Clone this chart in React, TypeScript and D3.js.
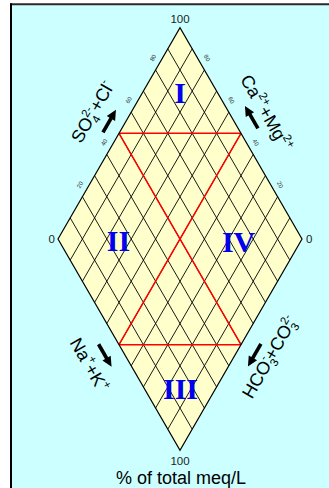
import React from "react";
import * as d3 from "d3";

// ---- data ----
const gridLevels = [0, 10, 20, 30, 40, 50, 60, 70, 80, 90, 100];
const edgeTicks = [20, 40, 60, 80];
const boundaryLevel = 50;
const regionNames = ["I", "II", "III", "IV"];
const regionA = [84.5, 24.3, 14.7, 73.3];
const regionB = [15.5, 25.3, 85.7, 74.7];

const W = 329;
const H = 488;
const cx = 180;
const cy = 239;
const halfW = 122;
const halfH = halfW * Math.sqrt(3);

// diamond coordinates: a = towards top, b = towards bottom (both 0..100)
const ax = d3.scaleLinear().domain([0, 100]).range([0, halfW]);
const ay = d3.scaleLinear().domain([0, 100]).range([0, -halfH]);
const bx = d3.scaleLinear().domain([0, 100]).range([0, halfW]);
const by = d3.scaleLinear().domain([0, 100]).range([0, halfH]);
const P = (a: number, b: number): [number, number] => [
  cx - halfW + ax(a) + bx(b),
  cy + ay(a) + by(b),
];
const line = d3.line<[number, number]>();

const FONT = "'Liberation Sans', Arial, sans-serif";

function Arrow({ x, y, angle }: { x: number; y: number; angle: number }) {
  const L = 26;
  const head = 10;
  const hw = 4.8;
  return (
    <g transform={`translate(${x},${y}) rotate(${angle})`}>
      <line x1={-L / 2} y1={0} x2={L / 2 - head + 1} y2={0} stroke="#000" strokeWidth={3.6} />
      <path d={`M${L / 2},0 L${L / 2 - head},${-hw} L${L / 2 - head},${hw} Z`} fill="#000" />
    </g>
  );
}

function edgePoint(t: number, from: [number, number], to: [number, number], off: number, nrm: [number, number]) {
  return [from[0] + (to[0] - from[0]) * t + nrm[0] * off, from[1] + (to[1] - from[1]) * t + nrm[1] * off];
}

export default function App() {
  const top = P(100, 0);
  const left = P(0, 0);
  const right = P(100, 100);
  const bottom = P(0, 100);
  const outline = line([left, top, right, bottom, left]) + "Z";

  const s3 = Math.sqrt(3) / 2;
  const aL = edgePoint(0.524, left, top, 14.4, [-s3, -0.5]);
  const aR = edgePoint(0.464, top, right, 17.1, [s3, -0.5]);
  const aBL = edgePoint(0.51, left, bottom, 17.5, [-s3, 0.5]);
  const aBR = edgePoint(0.51, right, bottom, 16.9, [s3, 0.5]);

  const sub = 11.5;
  const sw = 6.4;
  return (
    <svg width={W} height={H} style={{ position: "absolute", left: 0, top: 0 }}>
      <rect x={0} y={0} width={W} height={H} fill="#fff" />
      <rect x={11} y={4} width={W - 11} height={H - 4} fill="#CCFFFF" />
      <line x1={10} y1={4.3} x2={W} y2={4.3} stroke="#2a2a2a" strokeWidth={2} />
      <line x1={11} y1={3.3} x2={11} y2={H} stroke="#000" strokeWidth={2} />

      <path d={outline} fill="#FFFFCC" stroke="none" />
      <g stroke="#000" strokeWidth={0.9} fill="none">
        {gridLevels.slice(1, -1).map((v) => (
          <path key={"a" + v} d={line([P(v, 0), P(v, 100)]) as string} />
        ))}
        {gridLevels.slice(1, -1).map((v) => (
          <path key={"b" + v} d={line([P(0, v), P(100, v)]) as string} />
        ))}
      </g>
      <g stroke="#FF0000" strokeWidth={1.5} fill="none">
        <path d={line([P(boundaryLevel, 0), P(boundaryLevel, 100)]) as string} />
        <path d={line([P(0, boundaryLevel), P(100, boundaryLevel)]) as string} />
        <path d={line([P(boundaryLevel, 0), P(100, boundaryLevel)]) as string} />
        <path d={line([P(0, boundaryLevel), P(boundaryLevel, 100)]) as string} />
      </g>
      <path d={outline} fill="none" stroke="#000" strokeWidth={1.2} />

      {/* edge tick labels */}
      <g fontFamily={FONT} fontSize={6} fill="#333" textAnchor="middle" dominantBaseline="central">
        {edgeTicks.map((v) => {
          const [x, y] = P(v, 0);
          return (
            <text key={"l" + v} transform={`translate(${x - 2.5},${y - 12}) rotate(-60)`}>
              {v}
            </text>
          );
        })}
        {edgeTicks.map((v) => {
          const [x, y] = P(100, 100 - v);
          return (
            <text key={"r" + v} transform={`translate(${x + 2.5},${y - 12}) rotate(60)`}>
              {v}
            </text>
          );
        })}
      </g>
      <g fontFamily={FONT} fontSize={11.5} fill="#222">
        <text x={top[0]} y={top[1] - 5} textAnchor="middle">100</text>
        <text x={bottom[0]} y={bottom[1] + 15} textAnchor="middle">100</text>
        <text x={left[0] - 3} y={left[1] + 4} textAnchor="end">0</text>
        <text x={right[0] + 4} y={right[1] + 4} textAnchor="start">0</text>
      </g>

      {/* region labels */}
      <g fontFamily="'Liberation Serif', 'Times New Roman', serif" fontWeight="bold" fontSize={30} fill="#0000EE" textAnchor="middle">
        {regionNames.map((n, i) => {
          const [x, y] = P(regionA[i], regionB[i]);
          return (
            <text key={n} x={x} y={y + 10}>
              {n}
            </text>
          );
        })}
      </g>

      {/* axis titles */}
      <g fontFamily={FONT} fontSize={18} fill="#000">
        <text transform="translate(98,115) rotate(-60)" textAnchor="middle">
          <tspan>SO</tspan>
          <tspan fontSize={sub} dy={4.5}>4</tspan>
          <tspan fontSize={sub} dx={-sw} dy={-12}>2-</tspan>
          <tspan dy={7.5}>+Cl</tspan>
          <tspan fontSize={sub} dy={-8}>-</tspan>
        </text>
        <text transform="translate(261,116) rotate(60)" textAnchor="middle">
          <tspan>Ca</tspan>
          <tspan fontSize={sub} dy={-8}>2+</tspan>
          <tspan dy={8}>+Mg</tspan>
          <tspan fontSize={sub} dy={-8}>2+</tspan>
        </text>
        <text transform="translate(84,368) rotate(60)" textAnchor="middle">
          <tspan>Na</tspan>
          <tspan fontSize={sub} dy={-8}>+</tspan>
          <tspan dy={8}>+K</tspan>
          <tspan fontSize={sub} dy={-8}>+</tspan>
        </text>
        <text transform="translate(275,360) rotate(-60)" textAnchor="middle">
          <tspan>HCO</tspan>
          <tspan fontSize={sub} dy={4.5}>3</tspan>
          <tspan fontSize={sub} dx={-sw} dy={-12}>-</tspan>
          <tspan dy={7.5}>+CO</tspan>
          <tspan fontSize={sub} dy={4.5}>3</tspan>
          <tspan fontSize={sub} dx={-sw} dy={-12}>2-</tspan>
        </text>
        <text x={181} y={484} fontSize={18} textAnchor="middle">% of total meq/L</text>
      </g>

      <Arrow x={aL[0]} y={aL[1]} angle={-60} />
      <Arrow x={aR[0]} y={aR[1]} angle={-120} />
      <Arrow x={aBL[0]} y={aBL[1]} angle={60} />
      <Arrow x={aBR[0]} y={aBR[1]} angle={120} />
    </svg>
  );
}
